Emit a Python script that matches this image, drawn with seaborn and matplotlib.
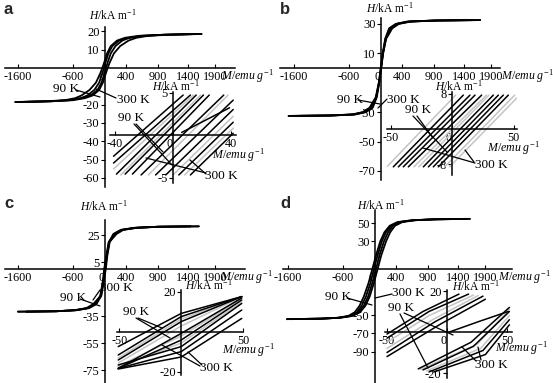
import numpy as np
import pandas as pd
import seaborn as sns
import matplotlib.pyplot as plt
from matplotlib.lines import Line2D

# ---- main loops: H grid (kA/m) and M on the descending branch (emu/g) ----
h_a = [18.6, 18.2, 17.6, 16.5, 15, 12, 8, 3, 0, -3, -8, -12, -15, -16.5, -17.6, -18.2, -18.6]
m_a_90 = [1600, 1000, 750, 560, 440, 290, 170, 90, 50, 15, -40, -110, -230, -380, -600, -1050, -1650]
m_a_300 = [1600, 1000, 650, 450, 330, 200, 110, 50, 20, -10, -65, -140, -270, -450, -700, -1150, -1650]

h_b = [32.6, 32.3, 31.6, 30, 27, 20, 10, 0, -10, -20, -27, -30, -31.6, -32.3, -32.6]
m_b_90 = [1600, 900, 500, 300, 170, 90, 40, 5, -35, -90, -200, -320, -520, -950, -1700]
m_b_300 = [1600, 900, 480, 280, 155, 80, 32, 0, -40, -100, -215, -340, -540, -970, -1700]

h_c = [31.6, 31.3, 30.5, 29, 26, 20, 10, 0, -10, -20, -26, -29, -30.5, -31.3, -31.6]
m_c_90 = [1450, 900, 550, 330, 180, 90, 45, 15, -25, -70, -200, -330, -550, -900, -1600]
m_c_300 = [1450, 900, 520, 300, 160, 75, 35, 5, -35, -85, -220, -350, -570, -920, -1600]

h_d = [54.5, 54, 53, 51, 47, 40, 30, 15, 0, -15, -30, -40, -47, -51, -53, -54, -54.5]
m_d_90 = [1550, 1000, 700, 500, 380, 290, 210, 120, 50, -20, -100, -180, -280, -420, -650, -1000, -1620]
m_d_300 = [1550, 1000, 660, 460, 340, 250, 170, 85, 20, -50, -130, -210, -310, -450, -680, -1030, -1620]

main_xticks = [-1600, -600, 0, 400, 900, 1400, 1900]
main_xlabels = ['-1600', '-600', '0', '400', '900', '1400', '1900']
yticks_a = [20, 10, -20, -30, -40, -50, -60]
yticks_b = [30, 10, -30, -50, -70]
yticks_c = [25, 5, -35, -55, -75]
yticks_d = [50, 30, -50, -70, -90]

# ---- insets: zoomed branches near the origin ----
ia_black_m = [[-41, 7], [-41, 12], [-39, 16], [-33, 21], [-28, 25], [-22, 35],
              [-12, 41.5], [-5, 41.5], [4, 41.5], [12, 41.5], [6, 39]]
ia_black_h = [[-2.5, 4.7], [-3.3, 4.7], [-4.6, 4.7], [-4.6, 4.7], [-4.6, 4.7], [-4.7, 4.7],
              [-4.7, 4.1], [-4.7, 3.0], [-4.7, 1.5], [-4.7, 0.2], [0.3, 3.2]]
ia_gray_m = [[-41, 14], [-36, 19], [-17, 38], [0, 41.5], [8, 41.5]]
ia_gray_h = [[-4.0, 4.7], [-4.7, 4.7], [-4.7, 4.7], [-4.7, 2.2], [-4.7, 0.8]]

ib_black_m = [[-47.7, 9.2], [-43.6, 14.6], [-39.6, 18.7], [-35.5, 24.1],
              [-23.3, 33.6], [-19.2, 37.7], [-15.2, 41.7], [-11.1, 45.8]]
ib_black_h = [[-8.6, 7.7], [-8.6, 7.7], [-8.6, 7.7], [-8.6, 7.7],
              [-8.6, 7.7], [-8.6, 7.7], [-8.6, 7.7], [-8.6, 7.7]]
ib_gray_m = [[-53, 3], [-31, 28], [-27, 30], [-6, 51], [-2, 55]]
ib_gray_h = [[-8.6, 7.7], [-8.6, 7.7], [-8.6, 7.7], [-8.6, 7.7], [-8.6, 7.7]]

ic_m = [-51, 0, 49]
ic_black_h = [[-7.3, 9.3, 17.7], [-11.5, 7.7, 17.7], [-14, 5.2, 17.7], [-18.2, -0.7, 17.0],
              [-18.2, -4, 16], [-16.5, -7.3, 14.3], [-18.2, -9.8, 11], [-18.5, -12.5, 6.8]]
ic_gray_h = [[-13, 6.5, 17.7], [-15.5, 3, 17.5], [-17, -2, 16.5], [-17.5, -5.5, 15]]

id_black_m = [[-50, -20, 10], [-50, -15, 18], [-50, -10, 30], [-50, -5, 32],
              [-24, 20, 52], [-20, 22, 52], [-15, 30, 52], [-11, 32, 52], [2, 26, 51]]
id_black_h = [[-1, 10, 18.5], [-3, 10, 18.5], [-10, 5, 17.5], [-12, 4, 16],
              [-18, -5, 12], [-18.5, -7, 10], [-19.5, -9, 6], [-19.5, -11, 3.5], [0, 5, 10]]
id_gray_m = [[-50, -15, 22], [-50, -12, 26], [-22, 25, 52], [-17, 28, 52]]
id_gray_h = [[-5, 8, 18], [-8, 6, 17.8], [-18.2, -6, 11], [-19, -8, 8]]

# ---- layout (pixels of the 553x383 page) ----
W, HP = 553, 383
tick_pos = [-3700, -1600, -600, 0, 400, 900, 1400, 1900, 5000]
tick_px = [-200, -87, -32, 0, 21, 53, 83, 110, 250]


def to_px(v):
    return np.interp(v, tick_pos, tick_px)


def from_px(p):
    return np.interp(p, tick_px, tick_pos)


sns.set_theme(style='white')
plt.rcParams['font.family'] = ['Liberation Serif', 'DejaVu Serif']
plt.rcParams['mathtext.fontset'] = 'custom'
plt.rcParams['mathtext.rm'] = 'Liberation Serif'
plt.rcParams['mathtext.it'] = 'Liberation Serif:italic'

fig = plt.figure(figsize=(W / 100, HP / 100), dpi=100)
fig.patch.set_facecolor('white')


def rect(ox, oy, l, r, t, b):
    return [(ox + l) / W, 1 - (oy + b) / HP, (r - l) / W, (b - t) / HP]


def loop_df(h, m90, m300):
    rows = []
    for name, m in [('90', m90), ('300', m300)]:
        rows += [(mm, hh, name + 'dn') for mm, hh in zip(m, h)]
        rows += [(-mm, -hh, name + 'up') for mm, hh in zip(m, h)]
    return pd.DataFrame(rows, columns=['M', 'H', 'branch'])


def lines_df(m_lines, h_lines, shade):
    rows = []
    for i, (ms, hs) in enumerate(zip(m_lines, h_lines)):
        rows += [(mm, hh, f'{shade}{i}', shade) for mm, hh in zip(ms, hs)]
    return pd.DataFrame(rows, columns=['M', 'H', 'line', 'shade'])


def style(ax, xt, xl, yt):
    ax.set_facecolor('none')
    for s in ['top', 'right']:
        ax.spines[s].set_visible(False)
    for s in ['left', 'bottom']:
        ax.spines[s].set_position(('data', 0))
        ax.spines[s].set_color('black')
        ax.spines[s].set_linewidth(1.1)
    ax.set_xticks(xt, xl)
    ax.set_yticks(yt, [str(v) for v in yt])
    ax.minorticks_off()
    ax.tick_params(axis='x', bottom=True, direction='in', length=3, width=0.8,
                   pad=2, labelsize=8.7, colors='black')
    ax.tick_params(axis='y', left=True, direction='out', length=3, width=0.8,
                   pad=1, labelsize=9, colors='black')
    for lbl in ax.get_xticklabels():
        if lbl.get_text() == '0':
            lbl.set_ha('right')
    ax.set_xlabel('')
    ax.set_ylabel('')
    ax.grid(False)


# main panels: origin, left/right/top/bottom extents (px), px per kA/m
main = [
    ((105, 68, -100, 130, -41, 119, 1.83), (h_a, m_a_90, m_a_300), yticks_a),
    ((381, 68, -101, 119, -50, 112, 1.47), (h_b, m_b_90, m_b_300), yticks_b),
    ((105, 269, -100, 140, -49, 114, 1.35), (h_c, m_c_90, m_c_300), yticks_c),
    ((375, 269, -92, 137, -59, 114, 0.92), (h_d, m_d_90, m_d_300), yticks_d),
]
for (ox, oy, l, r, t, b, sy), loops, yt in main:
    ax = fig.add_axes(rect(ox, oy, l, r, t, b))
    sns.lineplot(data=loop_df(*loops), x='M', y='H', units='branch', estimator=None,
                 sort=False, color='black', lw=1.3, ax=ax)
    ax.set_xscale('function', functions=(to_px, from_px))
    ax.set_xlim(from_px(l), from_px(r))
    ax.set_ylim(-b / sy, -t / sy)
    style(ax, main_xticks, main_xlabels, yt)

# insets: origin, extents (px), px per emu/g, px per kA/m
insets = [
    ((173, 135, -63, 63, -43, 48, 1.45, 8.5),
     [(ia_black_m, ia_black_h), (ia_gray_m, ia_gray_h)],
     [-40, 0, 40], [5, -5]),
    ((452, 129, -65, 65, -37, 46, 1.23, 4.4),
     [(ib_black_m, ib_black_h), (ib_gray_m, ib_gray_h)],
     [-50, 0, 50], [8, -8]),
    ((182, 332, -65, 61, -42, 43, 1.25, 2.0),
     [([ic_m] * len(ic_black_h), ic_black_h), ([ic_m] * len(ic_gray_h), ic_gray_h)],
     [-50, 50], [20, -20]),
    ((447, 332, -62, 65, -42, 46, 1.2, 2.05),
     [(id_black_m, id_black_h), (id_gray_m, id_gray_h)],
     [-50, 0, 50], [20, -20]),
]
for (ox, oy, l, r, t, b, sx, sy), (blk, gry), xt, yt in insets:
    ax = fig.add_axes(rect(ox, oy, l, r, t, b))
    df = pd.concat([lines_df(*gry, 'gray'), lines_df(*blk, 'black')])
    sns.lineplot(data=df, x='M', y='H', units='line', hue='shade', hue_order=['gray', 'black'],
                 palette={'gray': '#c4c4c4', 'black': 'black'}, estimator=None, sort=False,
                 legend=False, lw=1.1, ax=ax)
    ax.set_xlim(l / sx, r / sx)
    ax.set_ylim(-b / sy, -t / sy)
    style(ax, xt, [str(v) for v in xt], yt)


def ftext(x, y, s, size=9.5, **kw):
    fig.text(x / W, 1 - y / HP, s, fontsize=size, ha='left', va='center', color='black', **kw)


h_lab = r'$H$/kA m$^{-1}$'
m_lab = r'$M/emu\ g^{-1}$'
for x, y in [(89, 15), (366, 8), (80, 206), (357, 205), (152, 86), (435, 86), (185, 285), (452, 286)]:
    ftext(x, y, h_lab, size=8.3)
for x, y in [(221, 76), (501, 76), (220, 277), (498, 277), (212, 155), (487, 148), (222, 350), (495, 348)]:
    ftext(x, y, m_lab, size=8.6)
for x, y in [(53, 89), (337, 100), (60, 298), (325, 297), (118, 118), (405, 110), (123, 312), (388, 308)]:
    ftext(x, y, '90 K')
for x, y in [(117, 100), (387, 100), (100, 288), (392, 293), (205, 176), (475, 165), (200, 368), (475, 365)]:
    ftext(x, y, '300 K')
for x, y, s in [(4, 9, 'a'), (280, 10, 'b'), (4, 203, 'c'), (280, 203, 'd')]:
    fig.text(x / W, 1 - y / HP, s, fontsize=12, fontweight='bold', family='Liberation Sans',
             ha='left', va='center')

# leader lines from the temperature labels to the curves
leaders = [((76, 90), (100, 97)), ((116, 98), (96, 89)),
           ((358, 100), (380, 104)), ((387, 99), (378, 108)),
           ((80, 299), (100, 306)), ((100, 290), (93, 300)),
           ((347, 298), (372, 305)), ((392, 294), (375, 298)),
           ((136, 124), (163, 152)), ((134, 124), (172, 165)), ((206, 173), (146, 158)), ((206, 174), (190, 160)),
           ((413, 116), (447, 152)), ((417, 116), (433, 138)), ((475, 163), (423, 148)), ((474, 162), (465, 150)),
           ((138, 318), (162, 328)), ((136, 318), (170, 338)), ((200, 366), (162, 345)), ((202, 365), (188, 352)),
           ((400, 314), (428, 368)), ((404, 313), (453, 335)), ((476, 361), (462, 347)), ((481, 360), (478, 347))]
for (x0, y0), (x1, y1) in leaders:
    fig.add_artist(Line2D([x0 / W, x1 / W], [1 - y0 / HP, 1 - y1 / HP],
                          transform=fig.transFigure, color='black', lw=0.9))

fig.savefig('out.png', dpi=100)
